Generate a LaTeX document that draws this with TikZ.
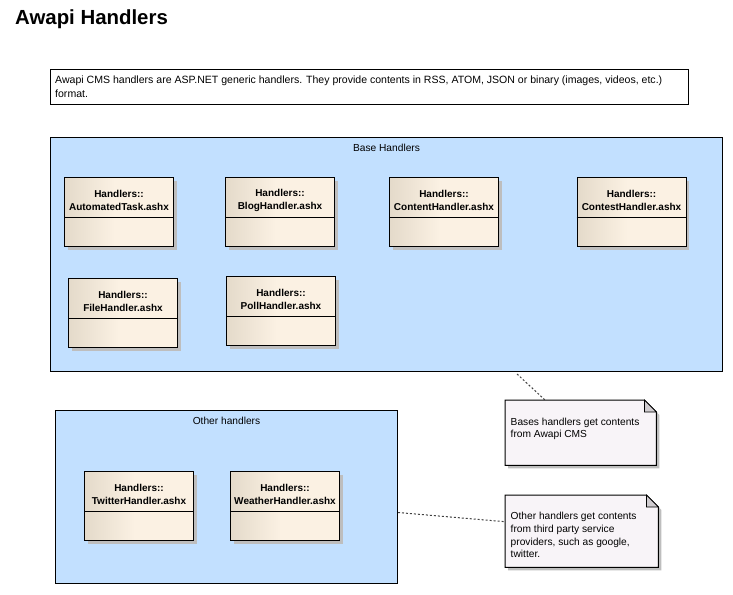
\documentclass[tikz,border=0pt]{standalone}
\usepackage{fontspec}
\setmainfont{Liberation Sans}
\usetikzlibrary{shadows}
\definecolor{pkgfill}{HTML}{C2E0FF}
\definecolor{clsL}{HTML}{E4DACA}
\definecolor{clsR}{HTML}{FBF1E3}
\definecolor{notefill}{HTML}{F8F4F8}
\definecolor{foldfill}{HTML}{D0CCD0}
\definecolor{shadowgray}{HTML}{BEBEBE}
\definecolor{linkgray}{HTML}{404040}
\pgfdeclarehorizontalshading{clsshade}{100bp}{color(0bp)=(clsL); color(25bp)=(clsL); color(48bp)=(clsR); color(100bp)=(clsR)}
\tikzset{
  box/.style={draw=black, line width=1pt, inner sep=0pt},
  pkg/.style={box, fill=pkgfill, anchor=north west},
  pkglabel/.style={inner sep=0pt, font=\fontsize{10.2}{12}\selectfont},
  cls/.style={box, anchor=north west, minimum width=109pt, minimum height=69pt,
    shade, shading=clsshade,
    drop shadow={shadow xshift=3pt, shadow yshift=-3pt, fill=shadowgray, opacity=1}},
  clstext/.style={inner sep=0pt, align=center, font=\fontsize{10}{13.3}\selectfont\bfseries},
  notebox/.style={inner sep=0pt, anchor=north west},
  notebody/.style={draw=black, line width=1pt, fill=notefill,
    drop shadow={shadow xshift=3pt, shadow yshift=-3pt, fill=shadowgray, opacity=1}},
  notefold/.style={draw=black, line width=0.8pt, fill=foldfill},
  notetext/.style={inner sep=0pt, anchor=north west, align=left, font=\fontsize{10.2}{12.8}\selectfont},
  link/.style={draw=linkgray, line width=1pt, dash pattern=on 2pt off 2pt},
}
\newcommand\clsbox[4]{%
  \node[cls] (#1) at (#2,#3) {};
  \node[clstext] (#1t) at ([yshift=-23.5pt]#1.north) {Handlers::\\#4};
  \draw[line width=1pt] ([yshift=-40pt]#1.north west) -- ([yshift=-40pt]#1.north east);
}
\newcommand\notefig[1]{%
  \draw[notebody] (#1.north west) -- ([xshift=-12pt]#1.north east) -- ([yshift=-12pt]#1.north east)
     -- (#1.south east) -- (#1.south west) -- cycle;
  \draw[notefold] ([xshift=-12pt]#1.north east) -- ([xshift=-12pt,yshift=-12pt]#1.north east)
     -- ([yshift=-12pt]#1.north east) -- cycle;
}
\begin{document}
\begin{tikzpicture}[x=1pt,y=-1pt]
\useasboundingbox[fill=white] (0,0) rectangle (733,594);

% title
\node[inner sep=0pt, anchor=base west, font=\fontsize{20.4}{24}\selectfont\bfseries] (title) at (15,25) {Awapi Handlers};

% description
\node[box, fill=white, anchor=north west, minimum width=638pt, minimum height=35pt] (desc) at (50,69) {};
\node[notetext, font=\fontsize{10.55}{13.8}\selectfont] (desct) at ([shift={(5pt,-6.5pt)}]desc.north west)
  {Awapi CMS handlers are ASP.NET generic handlers. They provide contents in RSS, ATOM, JSON or binary (images, videos, etc.)\\format.};

% packages
\node[pkg, minimum width=672pt, minimum height=234pt] (bp) at (50,137) {};
\node[pkglabel] (bpl) at ([yshift=-10.8pt]bp.north) {Base Handlers};
\node[pkg, minimum width=342pt, minimum height=173pt] (op) at (55,410) {};
\node[pkglabel] (opl) at ([yshift=-10.8pt]op.north) {Other handlers};

% classes
\clsbox{auto}{64}{177}{AutomatedTask.ashx}
\clsbox{blog}{225}{177}{BlogHandler.ashx}
\clsbox{content}{389}{177}{ContentHandler.ashx}
\clsbox{contest}{576.5}{177}{ContestHandler.ashx}
\clsbox{file}{68}{278}{FileHandler.ashx}
\clsbox{poll}{226}{276}{PollHandler.ashx}
\clsbox{twitter}{84}{471}{TwitterHandler.ashx}
\clsbox{weather}{230}{471}{WeatherHandler.ashx}

% notes
\node[notebox, minimum width=151pt, minimum height=65pt] (n1) at (505,400) {};
\notefig{n1}
\node[notetext] (n1t) at ([shift={(5.5pt,-17.5pt)}]n1.north west) {Bases handlers get contents\\from Awapi CMS};
\node[notebox, minimum width=153pt, minimum height=72pt] (n2) at (505,495) {};
\notefig{n2}
\node[notetext] (n2t) at ([shift={(5.5pt,-17pt)}]n2.north west) {Other handlers get contents\\from third party service\\providers, such as google,\\twitter.};

% connectors
\coordinate (c1) at (517,374);
\coordinate (c2) at (398,512.5);
\draw[link] (c1) -- ([xshift=40pt]n1.north west);
\draw[link] (c2) -- ([yshift=9.5pt]n2.west);
\end{tikzpicture}
\end{document}
